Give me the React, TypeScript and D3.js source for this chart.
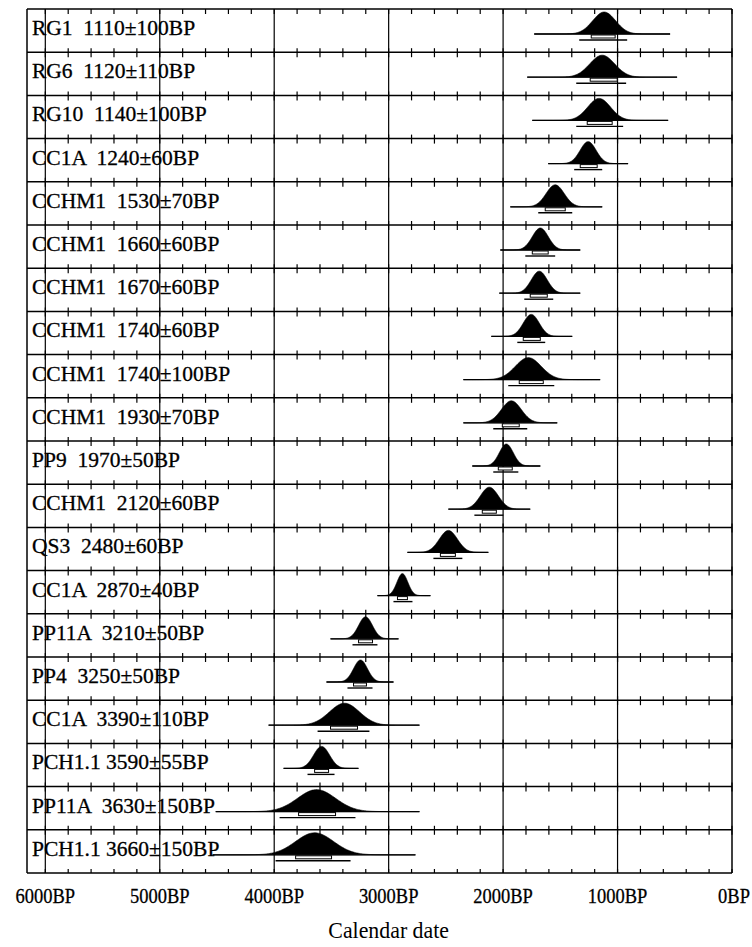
import React from "react";
import * as d3 from "d3";

// Sample labels (laboratory code and radiocarbon age)
const labels = [
  "RG1  1110±100BP",
  "RG6  1120±110BP",
  "RG10  1140±100BP",
  "CC1A  1240±60BP",
  "CCHM1  1530±70BP",
  "CCHM1  1660±60BP",
  "CCHM1  1670±60BP",
  "CCHM1  1740±60BP",
  "CCHM1  1740±100BP",
  "CCHM1  1930±70BP",
  "PP9  1970±50BP",
  "CCHM1  2120±60BP",
  "QS3  2480±60BP",
  "CC1A  2870±40BP",
  "PP11A  3210±50BP",
  "PP4  3250±50BP",
  "CC1A  3390±110BP",
  "PCH1.1 3590±55BP",
  "PP11A  3630±150BP",
  "PCH1.1 3660±150BP",
];

// Calibrated distribution: mode and spread (cal BP)
const modes = [1117, 1134, 1161, 1257, 1545, 1675, 1684, 1754, 1780, 1928, 1972, 2120, 2478, 2880, 3202, 3246, 3386, 3586, 3630, 3647];
const spreads = [100, 109, 100, 70, 79, 70, 70, 70, 113, 87, 61, 79, 79, 48, 61, 61, 131, 70, 166, 166];

// Extent of the plotted probability baseline (older, younger)
const baseFrom = [1728, 1789, 1745, 1606, 1937, 2024, 2033, 2103, 2347, 2347, 2269, 2478, 2836, 3098, 3508, 3543, 4049, 3918, 4511, 4538];
const baseTo = [541, 480, 558, 908, 1134, 1326, 1326, 1396, 1152, 1527, 1675, 1763, 2129, 2635, 2914, 2958, 2731, 3264, 2731, 2766];

// 68.2% and 95.4% ranges
const sig1From = [1230, 1239, 1265, 1326, 1632, 1745, 1763, 1824, 1859, 2007, 2042, 2182, 2548, 2923, 3263, 3307, 3508, 3647, 3787, 3813];
const sig1To = [1021, 1003, 1047, 1178, 1457, 1606, 1614, 1675, 1649, 1859, 1920, 2059, 2417, 2836, 3141, 3194, 3272, 3525, 3464, 3499];
const sig2From = [1335, 1361, 1361, 1379, 1693, 1806, 1815, 1876, 1955, 2086, 2086, 2251, 2609, 2958, 3316, 3360, 3621, 3709, 3953, 3988];
const sig2To = [916, 925, 951, 1134, 1396, 1545, 1562, 1632, 1553, 1789, 1867, 1998, 2356, 2792, 3098, 3141, 3168, 3473, 3290, 3333];

const axisTicks = [6000, 5000, 4000, 3000, 2000, 1000, 0];
const axisTitle = "Calendar date";

const W = 752;
const H = 947;
const left = 27;
const right = 732;
const top = 9;
const bottom = 873;

export default function App() {
  const x = d3.scaleLinear().domain([6160, 0]).range([left, right]);
  const y = d3
    .scaleBand<number>()
    .domain(d3.range(labels.length))
    .range([top, bottom])
    .paddingInner(0)
    .paddingOuter(0);
  const rowH = y.bandwidth();
  const peakH = 22;
  const baseOff = 25;

  const minor = d3.range(0, 6001, 200);
  const major = axisTicks.filter((t) => t > 0);
  const boundaries = d3.range(labels.length + 1).map((i) => top + i * rowH);

  const serif = "Liberation Serif";

  return (
    <svg width={W} height={H} style={{ display: "block", position: "absolute", left: 0, top: 0, background: "#fff" }}>
      <rect x={0} y={0} width={W} height={H} fill="#fff" />
      {/* major vertical gridlines */}
      {major.map((t) => (
        <line key={"g" + t} x1={x(t)} x2={x(t)} y1={top} y2={bottom} stroke="#000" strokeWidth={1.2} />
      ))}
      {/* row separators and minor ticks */}
      {boundaries.map((by, i) => (
        <g key={"b" + i}>
          <line x1={left} x2={right} y1={by} y2={by} stroke="#000" strokeWidth={1.5} />
          {minor.map((t) => {
            const up = i === 0 ? 0 : 4;
            const down = i === labels.length ? 0 : 5;
            return <line key={t} x1={x(t)} x2={x(t)} y1={by - up} y2={by + down} stroke="#000" strokeWidth={1.2} />;
          })}
        </g>
      ))}
      <line x1={left} x2={left} y1={top} y2={bottom} stroke="#000" strokeWidth={1.5} />
      <line x1={right} x2={right} y1={top} y2={bottom} stroke="#000" strokeWidth={1.5} />

      {labels.map((lab, i) => {
        const y0 = y(i) as number;
        const baseY = y0 + baseOff;
        const m = modes[i];
        const s = spreads[i];
        const pts = d3.range(201).map((k) => {
          const t = baseFrom[i] + ((baseTo[i] - baseFrom[i]) * k) / 200;
          const z = (t - m) / s;
          return [x(t), baseY - peakH * Math.exp(-0.5 * z * z)] as [number, number];
        });
        const area = d3
          .area<[number, number]>()
          .x((d) => d[0])
          .y0(baseY)
          .y1((d) => d[1])
          .curve(d3.curveLinear);
        return (
          <g key={"r" + i}>
            <path d={area(pts) || ""} fill="#000" stroke="#000" strokeWidth={0.6} />
            <line x1={x(baseFrom[i])} x2={x(baseTo[i])} y1={baseY} y2={baseY} stroke="#000" strokeWidth={1.3} />
            <rect
              x={x(sig1From[i])}
              y={baseY + 1}
              width={x(sig1To[i]) - x(sig1From[i])}
              height={3}
              fill="#fff"
              stroke="#000"
              strokeWidth={1}
            />
            <line x1={x(sig2From[i])} x2={x(sig2To[i])} y1={baseY + 6} y2={baseY + 6} stroke="#000" strokeWidth={1.4} />
            <text
              x={32}
              y={y0 + 26}
              fontFamily={serif}
              fontSize={21.5}
              fill="#000"
              stroke="#000"
              strokeWidth={0.3}
              style={{ whiteSpace: "pre" }}
            >
              {lab}
            </text>
          </g>
        );
      })}

      {axisTicks.map((t) => (
        <text
          key={"t" + t}
          transform={`translate(${t === 0 ? 734 : x(t)},903) scale(0.88,1)`}
          textAnchor="middle"
          fontFamily={serif}
          fontSize={21}
          fill="#000"
          stroke="#000"
          strokeWidth={0.3}
        >
          {t + "BP"}
        </text>
      ))}
      <text
        transform={`translate(${x(3000)},938) scale(0.95,1)`}
        textAnchor="middle"
        fontFamily={serif}
        fontSize={23}
        fill="#000"
      >
        {axisTitle}
      </text>
    </svg>
  );
}
